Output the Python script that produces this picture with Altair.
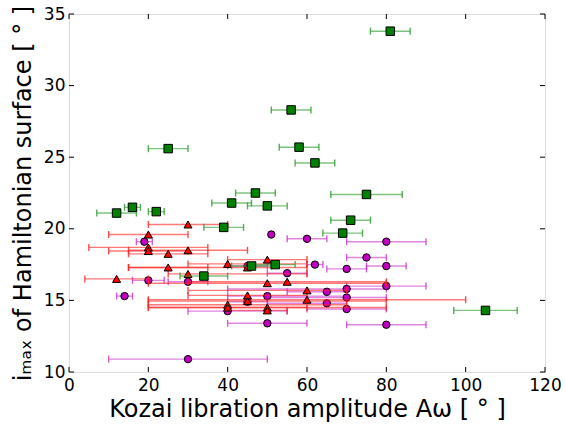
import altair as alt
import pandas as pd

# ---- data ----
green_x  = [81, 56, 58, 25, 62, 47, 75, 41, 50, 16, 22, 12, 71, 39, 69, 46, 52, 34, 105]
green_y  = [33.8, 28.3, 25.7, 25.6, 24.6, 22.5, 22.4, 21.8, 21.6, 21.5, 21.2, 21.1, 20.6, 20.1, 19.7, 17.4, 17.5, 16.7, 14.3]
green_lo = [76, 51, 53, 20, 57, 42, 66, 36, 45, 14, 20, 7, 66, 34, 64, 41, 47, 28, 97]
green_hi = [86, 61, 63, 30, 67, 52, 84, 46, 55, 18, 24, 17, 76, 44, 74, 51, 57, 40, 113]

red_x  = [30, 20, 20, 20, 25, 30, 40, 50, 25, 45, 30, 12, 50, 55, 60, 60, 45, 45, 40, 40, 50, 50]
red_y  = [20.3, 19.6, 18.7, 18.45, 18.25, 18.5, 17.55, 17.85, 17.3, 17.3, 16.85, 16.5, 16.2, 16.3, 15.7, 15.05, 15.35, 14.95, 14.7, 14.5, 14.5, 14.3]
red_lo = [20, 10, 5, 10, 15, 15, 30, 40, 15, 15, 25, 4, 20, 30, 30, 20, 30, 20, 20, 20, 20, 40]
red_hi = [40, 30, 35, 30, 35, 45, 60, 60, 35, 60, 60, 20, 80, 80, 70, 100, 60, 80, 70, 80, 60, 55]

mag_x  = [30, 50, 80, 40, 70, 45, 65, 50, 70, 65, 70, 80, 14, 20, 30, 55, 70, 80, 62, 45, 75, 60, 80, 51, 19]
mag_y  = [10.9, 13.4, 13.3, 14.25, 14.4, 14.9, 14.8, 15.3, 15.2, 15.6, 15.8, 16.0, 15.3, 16.4, 16.3, 16.9, 17.2, 17.4, 17.5, 17.4, 18.0, 19.3, 19.1, 19.6, 19.1]
mag_lo = [10, 40, 70, 30, 60, 40, 50, 40, 50, 55, 40, 70, 12, 16, 25, 50, 65, 75, 60, 40, 70, 55, 70, 51, 17]
mag_hi = [50, 60, 90, 55, 80, 50, 70, 70, 80, 70, 80, 90, 16, 24, 35, 60, 75, 85, 64, 50, 80, 65, 90, 51, 21]

x_ticks = [0, 20, 40, 60, 80, 100, 120]
y_ticks = [10, 15, 20, 25, 30, 35]

W, H = 476, 358

xs = alt.Scale(domain=[0, 120], nice=False, zero=False)
ys = alt.Scale(domain=[10, 35], nice=False, zero=False)


def series(xv, yv, lo, hi, shape, fill, bar_color, size):
    df = pd.DataFrame({"x": xv, "y": yv, "lo": lo, "hi": hi})
    base = alt.Chart(df)
    bars = base.mark_rule(color=bar_color, strokeWidth=1.4, opacity=0.6).encode(
        x=alt.X("lo:Q", scale=xs), x2="hi:Q", y=alt.Y("y:Q", scale=ys))
    cap_lo = base.mark_tick(color=bar_color, orient="vertical", size=7, thickness=1.4, opacity=0.8).encode(
        x=alt.X("lo:Q", scale=xs), y=alt.Y("y:Q", scale=ys))
    cap_hi = base.mark_tick(color=bar_color, orient="vertical", size=7, thickness=1.4, opacity=0.8).encode(
        x=alt.X("hi:Q", scale=xs), y=alt.Y("y:Q", scale=ys))
    pts = base.mark_point(shape=shape, filled=True, fill=fill, stroke="black",
                          strokeWidth=1, size=size, opacity=1).encode(
        x=alt.X("x:Q", scale=xs), y=alt.Y("y:Q", scale=ys))
    return [bars, cap_lo, cap_hi, pts]


axis_x = alt.Axis(values=x_ticks, ticks=False, domain=False, grid=False, labelFontSize=17,
                  labelFont="DejaVu Sans", labelColor="black", labelPadding=5, labelFlush=False,
                  title="Kozai libration amplitude A\u03c9 [ \u00b0 ]", titleFont="DejaVu Sans",
                  titleFontSize=24, titleFontWeight="normal", titleColor="black", titlePadding=4)
axis_y = alt.Axis(values=y_ticks, ticks=False, domain=False, grid=False, labelFontSize=17,
                  labelFont="DejaVu Sans", labelColor="black", labelPadding=4,
                  title="i\u2098\u2090\u2093 of Hamiltonian surface [ \u00b0 ]", titleFont="DejaVu Sans",
                  titleFontSize=24, titleFontWeight="normal", titleColor="black", titlePadding=8)

# axes carrier (invisible point just to host the axes)
axdf = pd.DataFrame({"x": [0], "y": [10]})
axes_layer = alt.Chart(axdf).mark_point(opacity=0).encode(
    x=alt.X("x:Q", scale=xs, axis=axis_x), y=alt.Y("y:Q", scale=ys, axis=axis_y))

# inward ticks on all four sides
xt = pd.DataFrame({"v": x_ticks})
yt = pd.DataFrame({"v": y_ticks})
tick_style = dict(color="black", strokeWidth=1)
xb = alt.Chart(xt).mark_rule(**tick_style).encode(x=alt.X("v:Q", scale=xs), y=alt.value(H), y2=alt.value(H - 5))
xtp = alt.Chart(xt).mark_rule(**tick_style).encode(x=alt.X("v:Q", scale=xs), y=alt.value(0), y2=alt.value(5))
yl = alt.Chart(yt).mark_rule(**tick_style).encode(y=alt.Y("v:Q", scale=ys), x=alt.value(0), x2=alt.value(5))
yr = alt.Chart(yt).mark_rule(**tick_style).encode(y=alt.Y("v:Q", scale=ys), x=alt.value(W), x2=alt.value(W - 5))

layers = [axes_layer]
layers += series(mag_x, mag_y, mag_lo, mag_hi, "circle", "#bf00bf", "#cc33cc", 55)
layers += series(red_x, red_y, red_lo, red_hi, "triangle-up", "#ff0000", "#ff2020", 65)
layers += series(green_x, green_y, green_lo, green_hi, "square", "#008000", "#2a9a2a", 72)
layers += [xb, xtp, yl, yr]

chart = alt.layer(*layers).properties(
    width=W, height=H,
    autosize=alt.AutoSizeParams(type="none"),
    padding={"left": 69, "top": 14, "right": 21, "bottom": 53},
).configure_view(stroke="black", strokeWidth=1.2).configure(background="white")

chart.save("out.html", embed_options={"renderer": "svg", "actions": False})
